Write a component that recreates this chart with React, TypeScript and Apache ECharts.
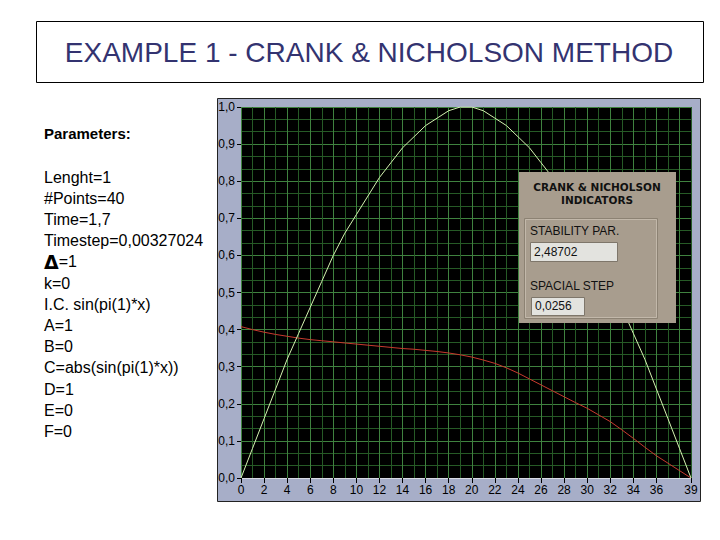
import React, { useEffect, useRef } from "react";
import * as echarts from "echarts";

const titleText = "EXAMPLE 1 - CRANK & NICHOLSON METHOD";

const paramHeader = "Parameters:";
const paramLines = [
  "Lenght=1",
  "#Points=40",
  "Time=1,7",
  "Timestep=0,00327024",
  "{d|Δ}=1",
  "k=0",
  "I.C. sin(pi(1)*x)",
  "A=1",
  "B=0",
  "C=abs(sin(pi(1)*x))",
  "D=1",
  "E=0",
  "F=0",
];

const categories = [
  "0", "1", "2", "3", "4", "5", "6", "7", "8", "9",
  "10", "11", "12", "13", "14", "15", "16", "17", "18", "19",
  "20", "21", "22", "23", "24", "25", "26", "27", "28", "29",
  "30", "31", "32", "33", "34", "35", "36", "37", "38", "39",
];

const xTickLabels = [
  "0", "2", "4", "6", "8", "10", "12", "14", "16", "18",
  "20", "22", "24", "26", "28", "30", "32", "34", "36", "39",
];

const initialCurve = [
  0.0, 0.08, 0.16, 0.24, 0.32, 0.39, 0.46, 0.53, 0.6, 0.66,
  0.71, 0.76, 0.81, 0.85, 0.89, 0.92, 0.95, 0.97, 0.99, 1.0,
  1.0, 0.99, 0.97, 0.95, 0.92, 0.89, 0.85, 0.81, 0.76, 0.71,
  0.66, 0.6, 0.53, 0.46, 0.39, 0.32, 0.24, 0.16, 0.08, 0.0,
];

const finalCurve = [
  0.408, 0.4, 0.393, 0.387, 0.382, 0.377, 0.373, 0.37, 0.367, 0.364,
  0.361, 0.358, 0.355, 0.352, 0.349, 0.347, 0.344, 0.341, 0.337, 0.332,
  0.326, 0.318, 0.309, 0.297, 0.283, 0.267, 0.251, 0.235, 0.219, 0.203,
  0.188, 0.17, 0.152, 0.13, 0.107, 0.083, 0.06, 0.04, 0.02, 0.0,
];

const indicatorTitle = ["CRANK & NICHOLSON", "INDICATORS"];
const stabilityLabel = "STABILITY PAR.";
const stabilityValue = "2,48702";
const stepLabel = "SPACIAL STEP";
const stepValue = "0,0256";

export default function App() {
  const ref = useRef<HTMLDivElement>(null);

  useEffect(() => {
    if (!ref.current) return;
    const chart = echarts.init(ref.current, null, { renderer: "svg" });

    const leftFont = "16px 'Liberation Sans', Arial, sans-serif";
    const paramGraphics: any[] = [
      {
        type: "text",
        x: 44,
        y: 133,
        style: {
          text: paramHeader,
          font: "bold 15px 'Liberation Sans', Arial, sans-serif",
          fill: "#000",
          textVerticalAlign: "middle",
        },
      },
      ...paramLines.map((t, i) => ({
        type: "text",
        x: 44,
        y: 177 + i * 21.2,
        style: {
          text: t,
          font: leftFont,
          fill: "#000",
          textVerticalAlign: "middle",
          rich: {
            d: {
              font: "bold 19px 'DejaVu Sans', sans-serif",
              fill: "#000",
            },
          },
        },
      })),
    ];

    const indicatorFont = "12px 'Liberation Sans', Arial, sans-serif";
    const TOP = 100;

    const option: any = {
      animation: false,
      backgroundColor: "#ffffff",
      graphic: [
        {
          type: "rect",
          z: -10,
          shape: { x: 36.5, y: 21.5, width: 667, height: 61 },
          style: { fill: "#fff", stroke: "#000", lineWidth: 1 },
        },
        {
          type: "text",
          x: 369,
          y: 52,
          style: {
            text: titleText,
            font: "28px 'Liberation Sans', Arial, sans-serif",
            fill: "#333370",
            textAlign: "center",
            textVerticalAlign: "middle",
          },
        },
        ...paramGraphics,
        {
          type: "rect",
          z: -10,
          shape: { x: 217.5, y: 98.5, width: 483, height: 403 },
          style: { fill: "#a7aec8", stroke: "#222", lineWidth: 1 },
        },
        {
          type: "rect",
          z: TOP,
          shape: { x: 519, y: 172, width: 157, height: 151 },
          style: { fill: "#a89d8e" },
        },
        {
          type: "text",
          z: TOP,
          x: 597,
          y: 187,
          style: {
            text: indicatorTitle[0],
            font: "bold 10.5px 'DejaVu Sans', sans-serif",
            fill: "#111",
            textAlign: "center",
            textVerticalAlign: "middle",
          },
        },
        {
          type: "text",
          z: TOP,
          x: 597,
          y: 200,
          style: {
            text: indicatorTitle[1],
            font: "bold 10.5px 'DejaVu Sans', sans-serif",
            fill: "#111",
            textAlign: "center",
            textVerticalAlign: "middle",
          },
        },
        {
          type: "rect",
          z: TOP,
          shape: { x: 524.5, y: 218.5, width: 133, height: 100 },
          style: { fill: "none", stroke: "#8c8273", lineWidth: 1 },
        },
        {
          type: "rect",
          z: TOP,
          shape: { x: 525.5, y: 219.5, width: 131, height: 98 },
          style: { fill: "none", stroke: "#c2b8aa", lineWidth: 1 },
        },
        {
          type: "text",
          z: TOP,
          x: 530,
          y: 231,
          style: {
            text: stabilityLabel,
            font: indicatorFont,
            fill: "#111",
            textVerticalAlign: "middle",
          },
        },
        {
          type: "rect",
          z: TOP,
          shape: { x: 530.5, y: 242.5, width: 87, height: 19 },
          style: { fill: "#e3e3df", stroke: "#7e766a", lineWidth: 1 },
        },
        {
          type: "text",
          z: TOP,
          x: 534,
          y: 252,
          style: {
            text: stabilityValue,
            font: indicatorFont,
            fill: "#111",
            textVerticalAlign: "middle",
          },
        },
        {
          type: "text",
          z: TOP,
          x: 530,
          y: 286,
          style: {
            text: stepLabel,
            font: indicatorFont,
            fill: "#111",
            textVerticalAlign: "middle",
          },
        },
        {
          type: "rect",
          z: TOP,
          shape: { x: 531.5, y: 297.5, width: 53, height: 18 },
          style: { fill: "#e3e3df", stroke: "#7e766a", lineWidth: 1 },
        },
        {
          type: "text",
          z: TOP,
          x: 535,
          y: 306,
          style: {
            text: stepValue,
            font: indicatorFont,
            fill: "#111",
            textVerticalAlign: "middle",
          },
        },
      ],
      grid: {
        left: 241,
        top: 107,
        right: 29,
        bottom: 62,
        show: true,
        backgroundColor: "#000",
        borderWidth: 0,
      },
      xAxis: {
        type: "category",
        data: categories,
        boundaryGap: false,
        axisLine: { show: true, lineStyle: { color: "#d8dae4", width: 1 } },
        axisTick: {
          show: true,
          length: 5,
          interval: (_i: number, v: string) => xTickLabels.includes(v),
          lineStyle: { color: "#000" },
        },
        axisLabel: {
          interval: (_i: number, v: string) => xTickLabels.includes(v),
          color: "#000",
          fontSize: 12,
          fontFamily: "'Liberation Sans', Arial, sans-serif",
          margin: 6,
        },
        splitLine: {
          show: true,
          interval: 0,
          lineStyle: { color: ["#3f823f", "#265a26"], width: 1 },
        },
      },
      yAxis: {
        type: "value",
        min: 0,
        max: 1,
        interval: 0.1,
        axisLine: { show: false },
        axisTick: { show: true, length: 4, lineStyle: { color: "#000" } },
        minorTick: { show: false, splitNumber: 3 },
        axisLabel: {
          color: "#000",
          fontSize: 12,
          fontFamily: "'Liberation Sans', Arial, sans-serif",
          margin: 6,
          formatter: (v: number) => v.toFixed(1).replace(".", ","),
        },
        splitLine: { show: true, lineStyle: { color: "#3f823f", width: 1 } },
        minorSplitLine: { show: true, lineStyle: { color: "#265a26", width: 1 } },
      },
      series: [
        {
          type: "line",
          data: initialCurve,
          symbol: "none",
          lineStyle: { color: "#d4f2b0", width: 1 },
          z: 5,
        },
        {
          type: "line",
          data: finalCurve,
          symbol: "none",
          lineStyle: { color: "#c83a2e", width: 1 },
          z: 4,
        },
      ],
    };

    chart.setOption(option);
    return () => chart.dispose();
  }, []);

  return (
    <div
      ref={ref}
      style={{ position: "absolute", left: 0, top: 0, width: 720, height: 540 }}
    />
  );
}
